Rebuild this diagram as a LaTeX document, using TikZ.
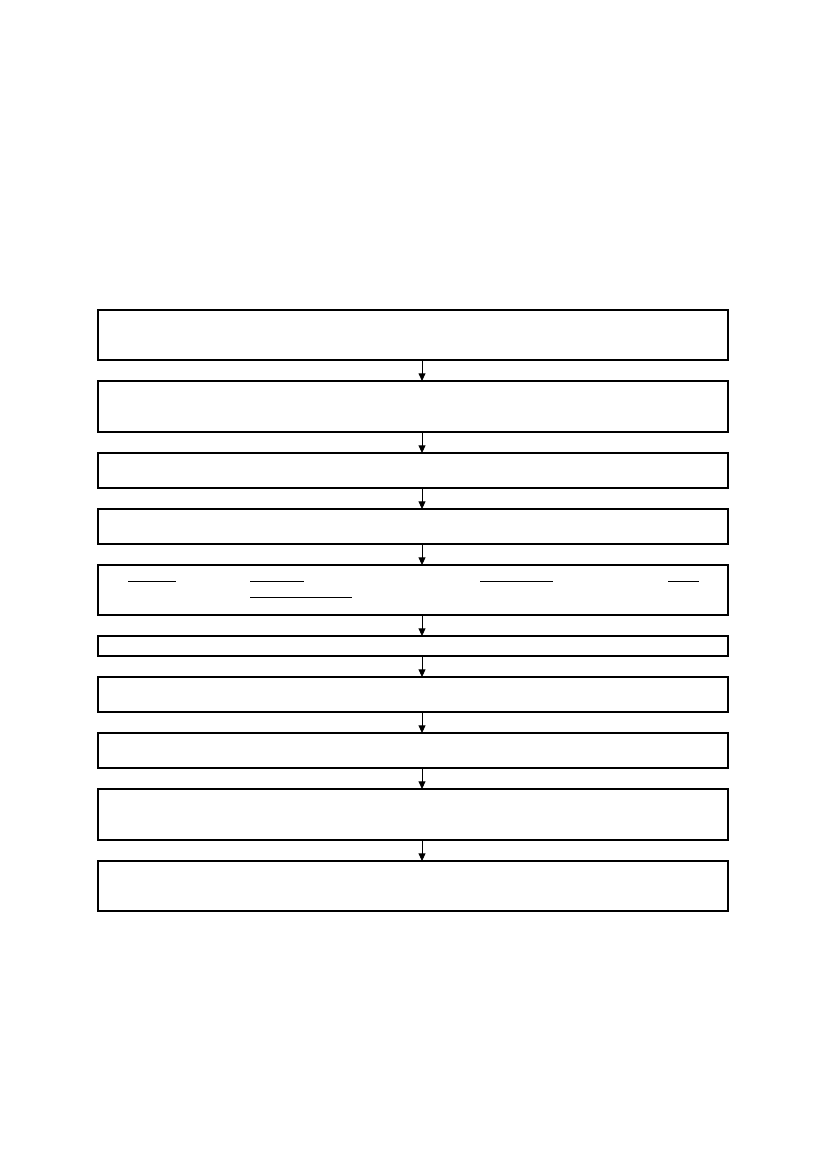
\documentclass[tikz,border=0pt]{standalone}
\usetikzlibrary{arrows.meta}

\tikzset{
  stepbox/.style={draw, line width=0.8pt, minimum width=454pt, minimum height=#1,
    inner sep=0pt, outer sep=0pt},
  flow/.style={line width=0.6pt, -{Triangle[length=5.5pt,width=5pt]}},
  uline/.style={line width=0.6pt}
}

\begin{document}
\begin{tikzpicture}[x=0.7207pt,y=-0.7207pt] % px units, y down

\useasboundingbox (0,0) rectangle (826,1169);

% the ten steps
\node[stepbox=36pt]   (b1)  at (413,335)   {};
\node[stepbox=36.8pt] (b2)  at (413,406.5) {};
\node[stepbox=25.2pt] (b3)  at (413,470.5) {};
\node[stepbox=25.2pt] (b4)  at (413,526.5) {};
\node[stepbox=36pt]   (b5)  at (413,590)   {};
\node[stepbox=14.4pt] (b6)  at (413,646)   {};
\node[stepbox=25.2pt] (b7)  at (413,694.5) {};
\node[stepbox=25.2pt] (b8)  at (413,750.5) {};
\node[stepbox=36.8pt] (b9)  at (413,814.5) {};
\node[stepbox=36pt]   (b10) at (413,886)   {};

% underlines in step 5
\draw[uline] (128,581)--(176,581) (250,581)--(304,581) (480,581)--(553,581) (668,581)--(699,581);
\draw[uline] (250,597)--(352,597);

% connectors
\coordinate (ax) at (422,0);
\foreach \a/\b in {b1/b2,b2/b3,b3/b4,b4/b5,b5/b6,b6/b7,b7/b8,b8/b9,b9/b10}
  \draw[flow] (\a.south -| ax) -- (\b.north -| ax);

\end{tikzpicture}
\end{document}
